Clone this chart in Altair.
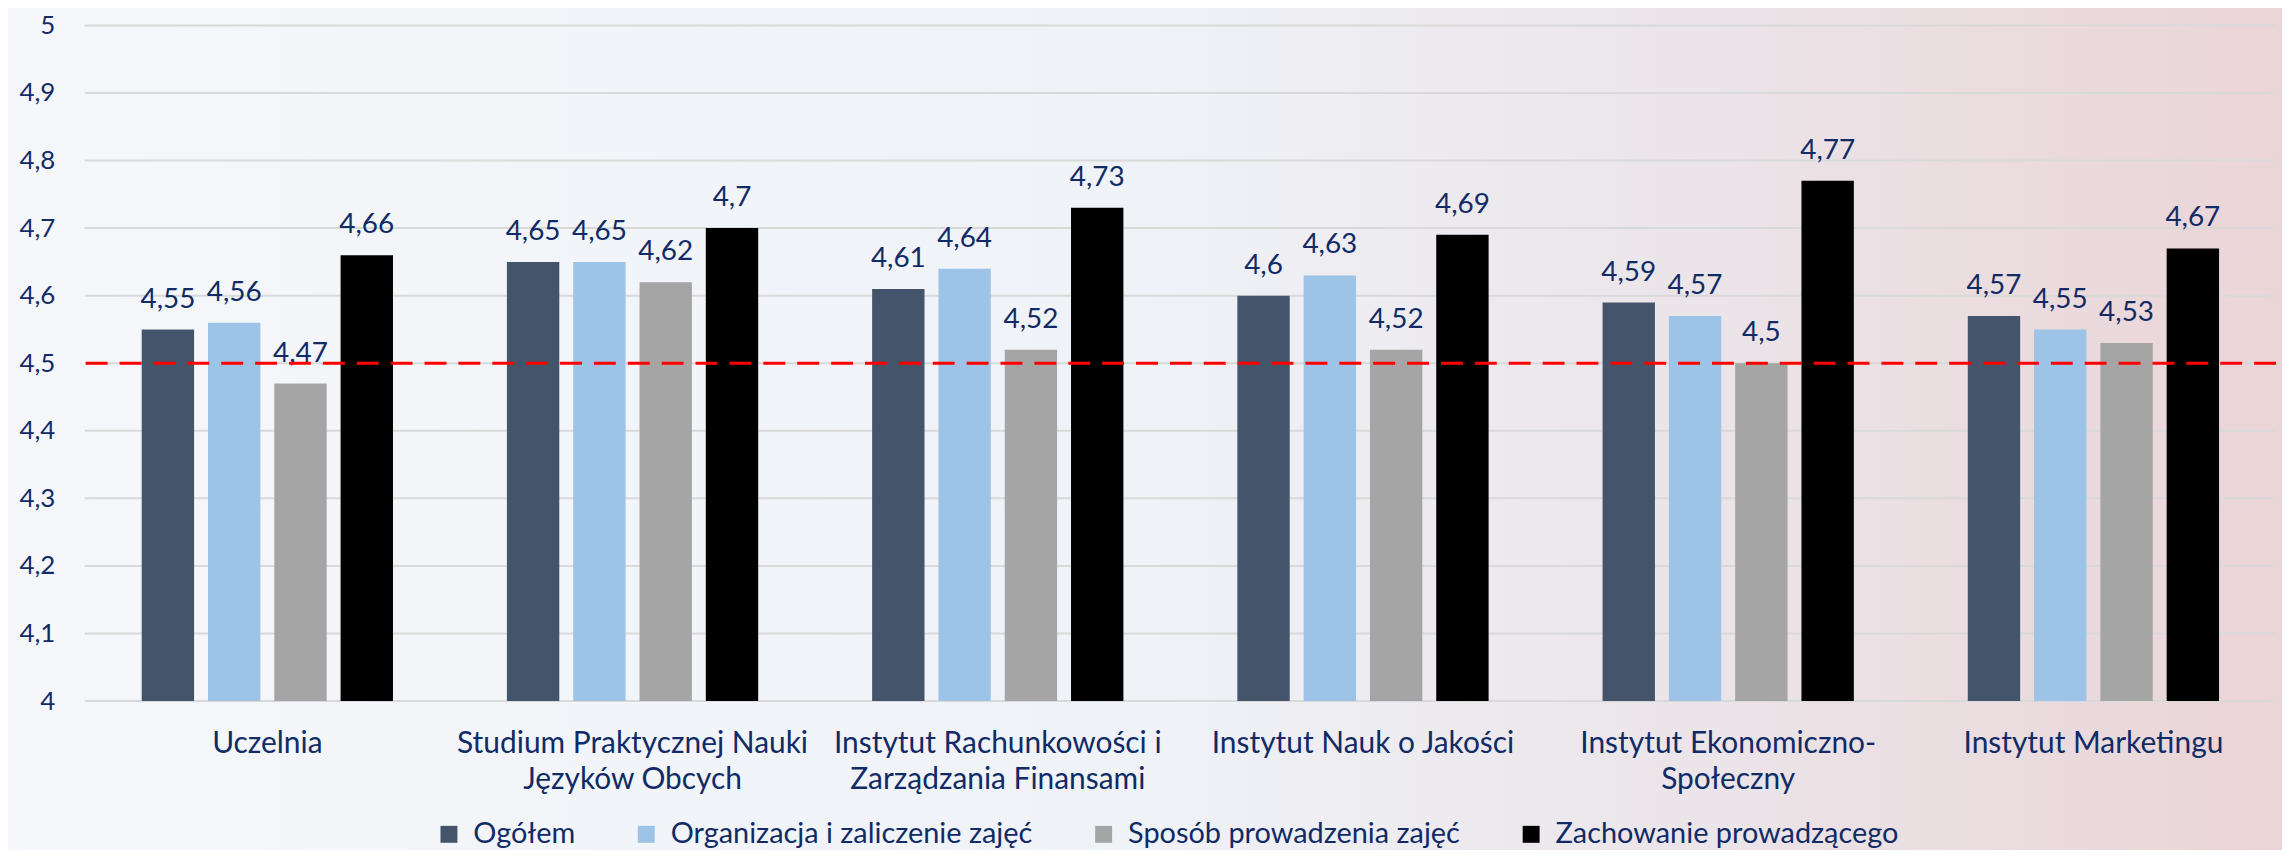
import altair as alt
import pandas as pd

categories = [
    "Uczelnia",
    "Studium Praktycznej Nauki\nJęzyków Obcych",
    "Instytut Rachunkowości i\nZarządzania Finansami",
    "Instytut Nauk o Jakości",
    "Instytut Ekonomiczno-\nSpołeczny",
    "Instytut Marketingu",
]
series = [
    "Ogółem",
    "Organizacja i zaliczenie zajęć",
    "Sposób prowadzenia zajęć",
    "Zachowanie prowadzącego",
]
ogolem = [4.55, 4.65, 4.61, 4.60, 4.59, 4.57]
organizacja = [4.56, 4.65, 4.64, 4.63, 4.57, 4.55]
sposob = [4.47, 4.62, 4.52, 4.52, 4.50, 4.53]
zachowanie = [4.66, 4.70, 4.73, 4.69, 4.77, 4.67]
colors = ["#44546a", "#9dc3e6", "#a5a5a5", "#000000"]
y_ticks = [4.0, 4.1, 4.2, 4.3, 4.4, 4.5, 4.6, 4.7, 4.8, 4.9, 5.0]
reference_value = 4.5
y_min = 4.0

rows = []
for s, vals in zip(series, [ogolem, organizacja, sposob, zachowanie]):
    for c, v in zip(categories, vals):
        rows.append({"kategoria": c, "seria": s, "wartosc": v})
df = pd.DataFrame(rows)

TEXT = "#112b66"
FONT = "Lato"
W, H = 2199, 678

y_scale = alt.Scale(domain=[4, 5], zero=False, nice=False)

x_enc = alt.X(
    "kategoria:N",
    sort=categories,
    scale=alt.Scale(paddingInner=0.312, paddingOuter=0.156),
    axis=alt.Axis(
        title=None,
        domain=False,
        ticks=False,
        labelAngle=0,
        labelFont=FONT,
        labelFontSize=30,
        labelColor=TEXT,
        labelPadding=28,
        labelLimit=600,
        labelLineHeight=36,
        labelBaseline="top",
        labelExpr="split(datum.label, '\\n')",
        zindex=1,
    ),
)
xoff_enc = alt.XOffset(
    "seria:N", sort=series, scale=alt.Scale(paddingInner=0.21, paddingOuter=0)
)
y_enc = alt.Y(
    "wartosc:Q",
    scale=y_scale,
    axis=alt.Axis(
        title=None,
        values=y_ticks,
        domain=False,
        ticks=False,
        grid=False,
        labelFont=FONT,
        labelFontSize=26,
        labelColor=TEXT,
        labelPadding=30,
        labelExpr="replace(format(datum.value, '.2~f'), '.', ',')",
        zindex=1,
    ),
)

bg = alt.Chart(pd.DataFrame({"a": [0]})).mark_rect(
    color=alt.LinearGradient(
        gradient="linear",
        x1=0, y1=0, x2=1, y2=0,
        stops=[
            alt.GradientStop(offset=0, color="#f5f7fa"),
            alt.GradientStop(offset=0.5, color="#eff2f7"),
            alt.GradientStop(offset=0.75, color="#ebe4e8"),
            alt.GradientStop(offset=1, color="#ead4d6"),
        ],
    )
).encode(
    x=alt.value(-90), x2=alt.value(W + 20), y=alt.value(-25), y2=alt.value(H + 170)
)

grid = alt.Chart(pd.DataFrame({"t": y_ticks})).mark_rule(
    color="#d9d9d9", strokeWidth=2
).encode(y=alt.Y("t:Q", scale=y_scale))

bars = alt.Chart(df).mark_bar().encode(
    x=x_enc,
    xOffset=xoff_enc,
    y=y_enc,
    y2=alt.datum(y_min),
    color=alt.Color(
        "seria:N",
        sort=series,
        scale=alt.Scale(domain=series, range=colors),
        legend=alt.Legend(
            title=None,
            orient="none",
            direction="horizontal",
            legendX=351,
            legendY=797,
            symbolType="square",
            symbolSize=289,
            symbolStrokeWidth=0,
            labelFont=FONT,
            labelFontSize=29,
            labelColor=TEXT,
            labelLimit=800,
            labelOffset=10,
            columnPadding=56,
        ),
    ),
)

labels = alt.Chart(df).transform_calculate(
    etykieta="replace(format(datum.wartosc, '.2~f'), '.', ',')"
).mark_text(
    font=FONT, fontSize=28, color=TEXT, baseline="alphabetic", dy=-22
).encode(
    x=alt.X("kategoria:N", sort=categories),
    xOffset=alt.XOffset("seria:N", sort=series),
    y="wartosc:Q",
    text="etykieta:N",
)

rule = alt.Chart(pd.DataFrame({"ref": [reference_value]})).mark_rule(
    color="#ff0000", strokeWidth=3, strokeDash=[22, 12]
).encode(y="ref:Q")

chart = alt.layer(bg, grid, bars, labels, rule).properties(
    width=W,
    height=H,
    padding={"left": 77, "top": 16, "right": 6, "bottom": 148},
    autosize=alt.AutoSizeParams(type="none"),
    background="#f5f7fa",
).configure_view(stroke=None)

chart.save("out.html", embed_options={"renderer": "svg", "actions": False})
